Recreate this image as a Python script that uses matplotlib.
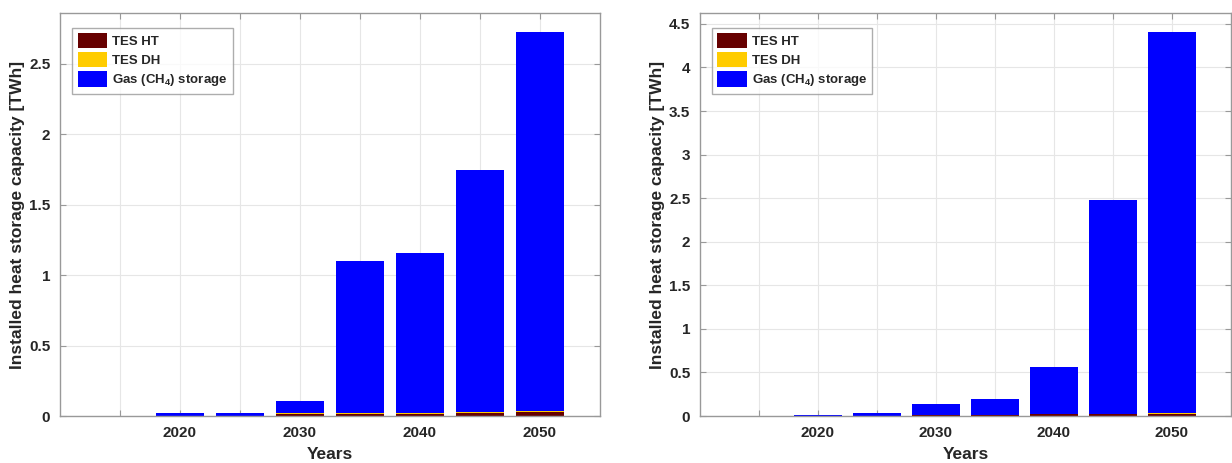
import numpy as np
import matplotlib
matplotlib.use("Agg")
import matplotlib.pyplot as plt

plt.rcParams['font.family'] = ['Liberation Sans', 'DejaVu Sans']
plt.rcParams['font.weight'] = 'bold'
plt.rcParams['axes.labelweight'] = 'bold'
plt.rcParams['mathtext.fontset'] = 'custom'
plt.rcParams['mathtext.rm'] = 'Liberation Sans:bold'
plt.rcParams['mathtext.bf'] = 'Liberation Sans:bold'
plt.rcParams['mathtext.it'] = 'Liberation Sans:bold'

# Data (TWh)
years = [2020, 2025, 2030, 2035, 2040, 2045, 2050]
labels = ['TES HT', 'TES DH', 'Gas (CH$_4$) storage']

left_tes_ht = [0.0, 0.0, 0.014, 0.016, 0.016, 0.020, 0.025]
left_tes_dh = [0.0, 0.0, 0.007, 0.008, 0.008, 0.010, 0.012]
left_total = [0.019, 0.020, 0.110, 1.100, 1.157, 1.747, 2.727]

right_tes_ht = [0.0, 0.0, 0.008, 0.010, 0.020, 0.022, 0.025]
right_tes_dh = [0.0, 0.0, 0.002, 0.003, 0.004, 0.005, 0.006]
right_total = [0.015, 0.035, 0.134, 0.195, 0.566, 2.480, 4.405]

colors = ['#660000', '#FFCC00', '#0000FF']
text_col = '#262626'

fig = plt.figure(figsize=(12.32, 4.63), dpi=100)
ax1 = fig.add_axes([60 / 1232, 47 / 463, 540 / 1232, 403 / 463])
ax2 = fig.add_axes([700 / 1232, 47 / 463, 531 / 1232, 403 / 463])


def draw(ax, ht, dh, total, yticks, ylim_top):
    ht = np.array(ht)
    dh = np.array(dh)
    gas = np.array(total) - ht - dh
    ax.set_axisbelow(True)
    ax.bar(years, ht, width=4, color=colors[0], label=labels[0])
    ax.bar(years, dh, width=4, bottom=ht, color=colors[1], label=labels[1])
    ax.bar(years, gas, width=4, bottom=ht + dh, color=colors[2], label=labels[2])
    ax.set_xlim(2010, 2055)
    ax.set_ylim(0, ylim_top)
    xt = np.arange(2015, 2055, 5)
    ax.set_xticks(xt)
    ax.set_xticklabels([str(x) if x % 10 == 0 else '' for x in xt])
    ax.set_yticks(yticks)
    ax.set_yticklabels(['%g' % v for v in yticks])
    ax.grid(True, color='#e6e6e6', linewidth=0.8)
    ax.tick_params(direction='in', top=True, right=True, length=4,
                   color='#999999', labelsize=11, labelcolor=text_col, pad=7)
    for s in ax.spines.values():
        s.set_color('#999999')
        s.set_linewidth(1.0)
    ax.set_xlabel('Years', fontsize=12.5, color=text_col, labelpad=5)
    ax.set_ylabel('Installed heat storage capacity [TWh]', fontsize=12.5,
                  color=text_col, labelpad=3)
    leg = ax.legend(loc='upper left', bbox_to_anchor=(0.018, 0.97), fontsize=9.5,
                    frameon=True, fancybox=False, edgecolor='#999999',
                    handlelength=2.2, handleheight=1.4, handletextpad=0.4,
                    labelspacing=0.3, borderpad=0.4, borderaxespad=0.2)
    leg.get_frame().set_linewidth(1.0)
    for t in leg.get_texts():
        t.set_color(text_col)


draw(ax1, left_tes_ht, left_tes_dh, left_total,
     [0, 0.5, 1, 1.5, 2, 2.5], 2.86)
draw(ax2, right_tes_ht, right_tes_dh, right_total,
     [0, 0.5, 1, 1.5, 2, 2.5, 3, 3.5, 4, 4.5], 4.625)

fig.savefig('out.png', dpi=100)
